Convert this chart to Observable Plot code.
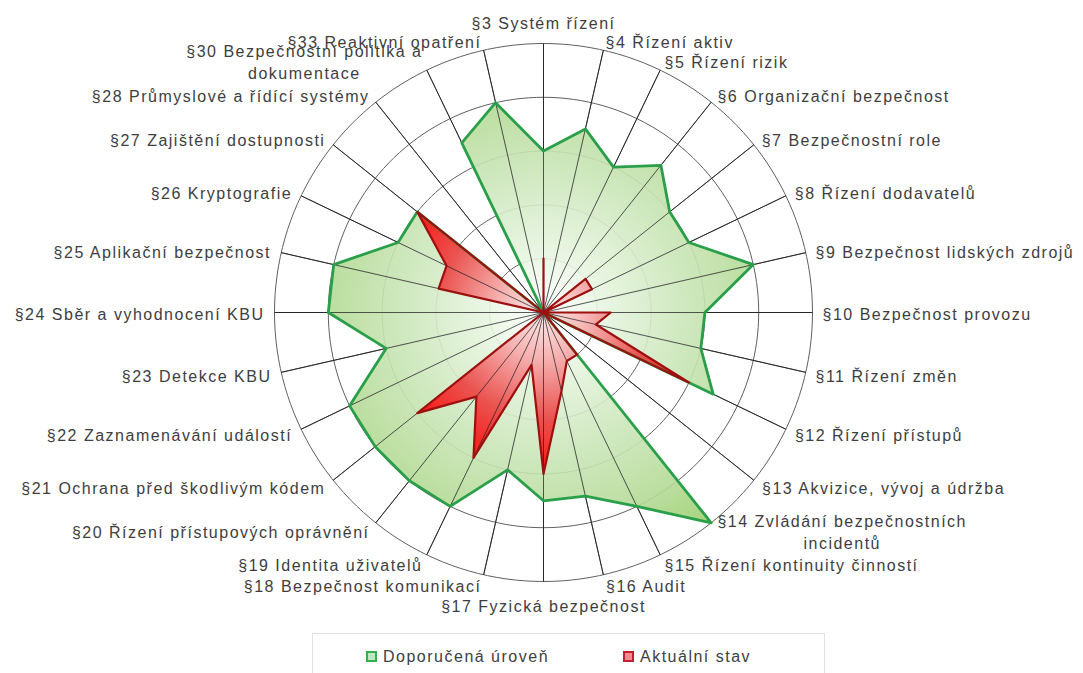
<!DOCTYPE html>
<html>
<head>
<meta charset="utf-8">
<script src="https://cdn.jsdelivr.net/npm/d3@7"></script>
<script src="https://cdn.jsdelivr.net/npm/@observablehq/plot@0.6"></script>
<style>
  body { margin: 0; background: #fff; font-family: "Liberation Sans", Arial, sans-serif; }
  #wrap { position: relative; width: 1083px; height: 673px; overflow: hidden; }
  #legend { position: absolute; left: 312px; top: 633px; width: 513px; height: 44px;
            border: 1px solid #e2e2e2; box-sizing: border-box; }
  .item { position: absolute; top: 14px; font-size: 16px; letter-spacing: 1.5px; color: #404040;
          line-height: 18px; white-space: nowrap; }
  .sw { display: inline-block; width: 7px; height: 7px; border: 2px solid; margin-right: 6px; vertical-align: 0px; }
</style>
</head>
<body>
<div id="wrap">
  <div id="chart"></div>
  <div id="legend"></div>
</div>
<script>
// ---- data ----
const labels = [
  "§3 Systém řízení",
  "§4 Řízení aktiv",
  "§5 Řízení rizik",
  "§6 Organizační bezpečnost",
  "§7 Bezpečnostní role",
  "§8 Řízení dodavatelů",
  "§9 Bezpečnost lidských zdrojů",
  "§10 Bezpečnost provozu",
  "§11 Řízení změn",
  "§12 Řízení přístupů",
  "§13 Akvizice, vývoj a údržba",
  "§14 Zvládání bezpečnostních\nincidentů",
  "§15 Řízení kontinuity činností",
  "§16 Audit",
  "§17 Fyzická bezpečnost",
  "§18 Bezpečnost komunikací",
  "§19 Identita uživatelů",
  "§20 Řízení přístupových oprávnění",
  "§21 Ochrana před škodlivým kódem",
  "§22 Zaznamenávání událostí",
  "§23 Detekce KBU",
  "§24 Sběr a vyhodnocení KBU",
  "§25 Aplikační bezpečnost",
  "§26 Kryptografie",
  "§27 Zajištění dostupnosti",
  "§28 Průmyslové a řídící systémy",
  "§30 Bezpečnostní politika a\ndokumentace",
  "§33 Reaktivní opatření"
];
const recommended = [3, 3.5, 3, 3.5, 3, 3, 4, 3, 3, 3.5, 0, 5, 4, 3.5, 3.5, 3, 4, 4, 4, 4, 3, 4, 4, 3, 3, 0, 3.5, 4];
const current     = [1, 0, 0, 0, 1, 1, 0, 1.25, 1, 3, 0, 1, 1, 1.5, 3, 1, 3, 2, 3, 0, 0, 0, 2, 2, 3, 0, 0, 0];
const seriesNames = ["Doporučená úroveň", "Aktuální stav"];
const ringLevels = [1, 2, 3, 4, 5];
const maxLevel = 5;

// ---- layout ----
const W = 1083, H = 628, CX = 543, CY = 312, RPX = 269;
const unit = RPX / maxLevel;
const N = labels.length;
const ang = i => 2 * Math.PI * i / N;
const X = (i, v) => v * Math.sin(ang(i));
const Y = (i, v) => v * Math.cos(ang(i));

const greenPts = recommended.map((v, i) => ({i, v}));
const redPts = current.map((v, i) => ({i, v}));
const ringPts = ringLevels.flatMap(l => d3.range(0, 360, 2).map(a => ({l, a})));
const spokes = labels.map((t, i) => ({i}));

const LS = 1.5, FS = 16;
const ctx = document.createElement("canvas").getContext("2d");
ctx.font = `${FS}px "Liberation Sans", Arial, sans-serif`;
const textW = s => d3.max(s.split("\n"), l => ctx.measureText(l).width + LS * l.length);
const labelRows = labels.map((t, i) => {
  const s = Math.sin(ang(i)), c = Math.cos(ang(i));
  const side = Math.abs(s) < 1e-6 ? 0 : Math.sign(s);
  const r = maxLevel + (side === 0 ? 15 : 10) / unit;
  return {t, x: r * s + side * textW(t) / 2 / unit, y: r * c,
          va: side === 0 ? (c > 0 ? "bottom" : "top") : "middle"};
});

const textOpts = {x: "x", y: "y", text: "t", textAnchor: "middle", fontSize: FS,
  fontFamily: '"Liberation Sans", Arial, sans-serif', fill: "#3e3e3e", lineHeight: 1.4};

const chart = Plot.plot({
  width: W, height: H,
  marginTop: 0, marginRight: 0, marginBottom: 0, marginLeft: 0,
  x: {domain: [-CX / unit, (W - CX) / unit], axis: null},
  y: {domain: [-(H - CY) / unit, CY / unit], axis: null},
  style: {fontFamily: '"Liberation Sans", Arial, sans-serif', fontSize: "16px",
          letterSpacing: LS + "px", background: "#fff", overflow: "visible"},
  marks: [
    Plot.line(ringPts, {x: d => d.l * Math.sin(d.a * Math.PI / 180), y: d => d.l * Math.cos(d.a * Math.PI / 180),
      z: "l", curve: "linear-closed", stroke: "#606060", strokeWidth: 1}),
    Plot.link(spokes, {x1: 0, y1: 0, x2: d => X(d.i, maxLevel), y2: d => Y(d.i, maxLevel),
      stroke: "#404040", strokeWidth: 1}),
    Plot.line(greenPts, {x: d => X(d.i, d.v), y: d => Y(d.i, d.v), curve: "linear-closed",
      fill: "url(#gradGreen)", fillOpacity: 0.9, stroke: "none"}),
    Plot.line(redPts, {x: d => X(d.i, d.v), y: d => Y(d.i, d.v), curve: "linear-closed",
      fill: "url(#gradRed)", fillOpacity: 0.9, stroke: "none"}),
    Plot.link(spokes, {x1: 0, y1: 0, x2: d => X(d.i, maxLevel), y2: d => Y(d.i, maxLevel),
      stroke: "#1e1e1e", strokeOpacity: 0.7, strokeWidth: 1}),
    Plot.line(greenPts, {x: d => X(d.i, d.v), y: d => Y(d.i, d.v), curve: "linear-closed",
      stroke: "#2a9f4a", strokeWidth: 2.8, strokeLinejoin: "round"}),
    Plot.line(redPts, {x: d => X(d.i, d.v), y: d => Y(d.i, d.v), curve: "linear-closed",
      stroke: "#9e1010", strokeWidth: 2.2, strokeLinejoin: "round"}),
    Plot.text(labelRows.filter(d => d.va === "middle"), {...textOpts, lineAnchor: "middle"}),
    Plot.text(labelRows.filter(d => d.va === "bottom"), {...textOpts, lineAnchor: "bottom"}),
    Plot.text(labelRows.filter(d => d.va === "top"), {...textOpts, lineAnchor: "top"})
  ]
});

// gradients positioned through the plot's own scales
const sx = chart.scale("x"), sy = chart.scale("y");
const gx = sx.apply(0), gy = sy.apply(0), gr = sx.apply(maxLevel) - gx;
const defs = d3.select(chart).insert("defs", ":first-child");
const gG = defs.append("radialGradient").attr("id", "gradGreen").attr("gradientUnits", "userSpaceOnUse")
  .attr("cx", gx).attr("cy", gy).attr("r", gr);
[[0, "#ffffff"], [0.2, "#e9f6e3"], [0.5, "#cde7bc"], [0.8, "#b3da95"], [1, "#9bcf6a"]].forEach(([o, c]) =>
  gG.append("stop").attr("offset", o).attr("stop-color", c));
const gR = defs.append("radialGradient").attr("id", "gradRed").attr("gradientUnits", "userSpaceOnUse")
  .attr("cx", gx).attr("cy", gy).attr("r", sx.apply(3) - gx);
[[0, "#ffeaea"], [0.3, "#f6a6a6"], [0.65, "#ec4343"], [1, "#ff0000"]].forEach(([o, c]) =>
  gR.append("stop").attr("offset", o).attr("stop-color", c));

document.getElementById("chart").appendChild(chart);

// legend
const legend = d3.select("#legend");
const legendItems = [
  {name: seriesNames[0], border: "#34b04f", fill: "#bfe8c4", left: 53},
  {name: seriesNames[1], border: "#c41f2e", fill: "#f28a94", left: 310}
];
legendItems.forEach(d => {
  const it = legend.append("div").attr("class", "item").style("left", d.left + "px");
  it.append("span").attr("class", "sw").style("border-color", d.border).style("background", d.fill);
  it.append("span").text(d.name);
});
</script>
</body>
</html>
